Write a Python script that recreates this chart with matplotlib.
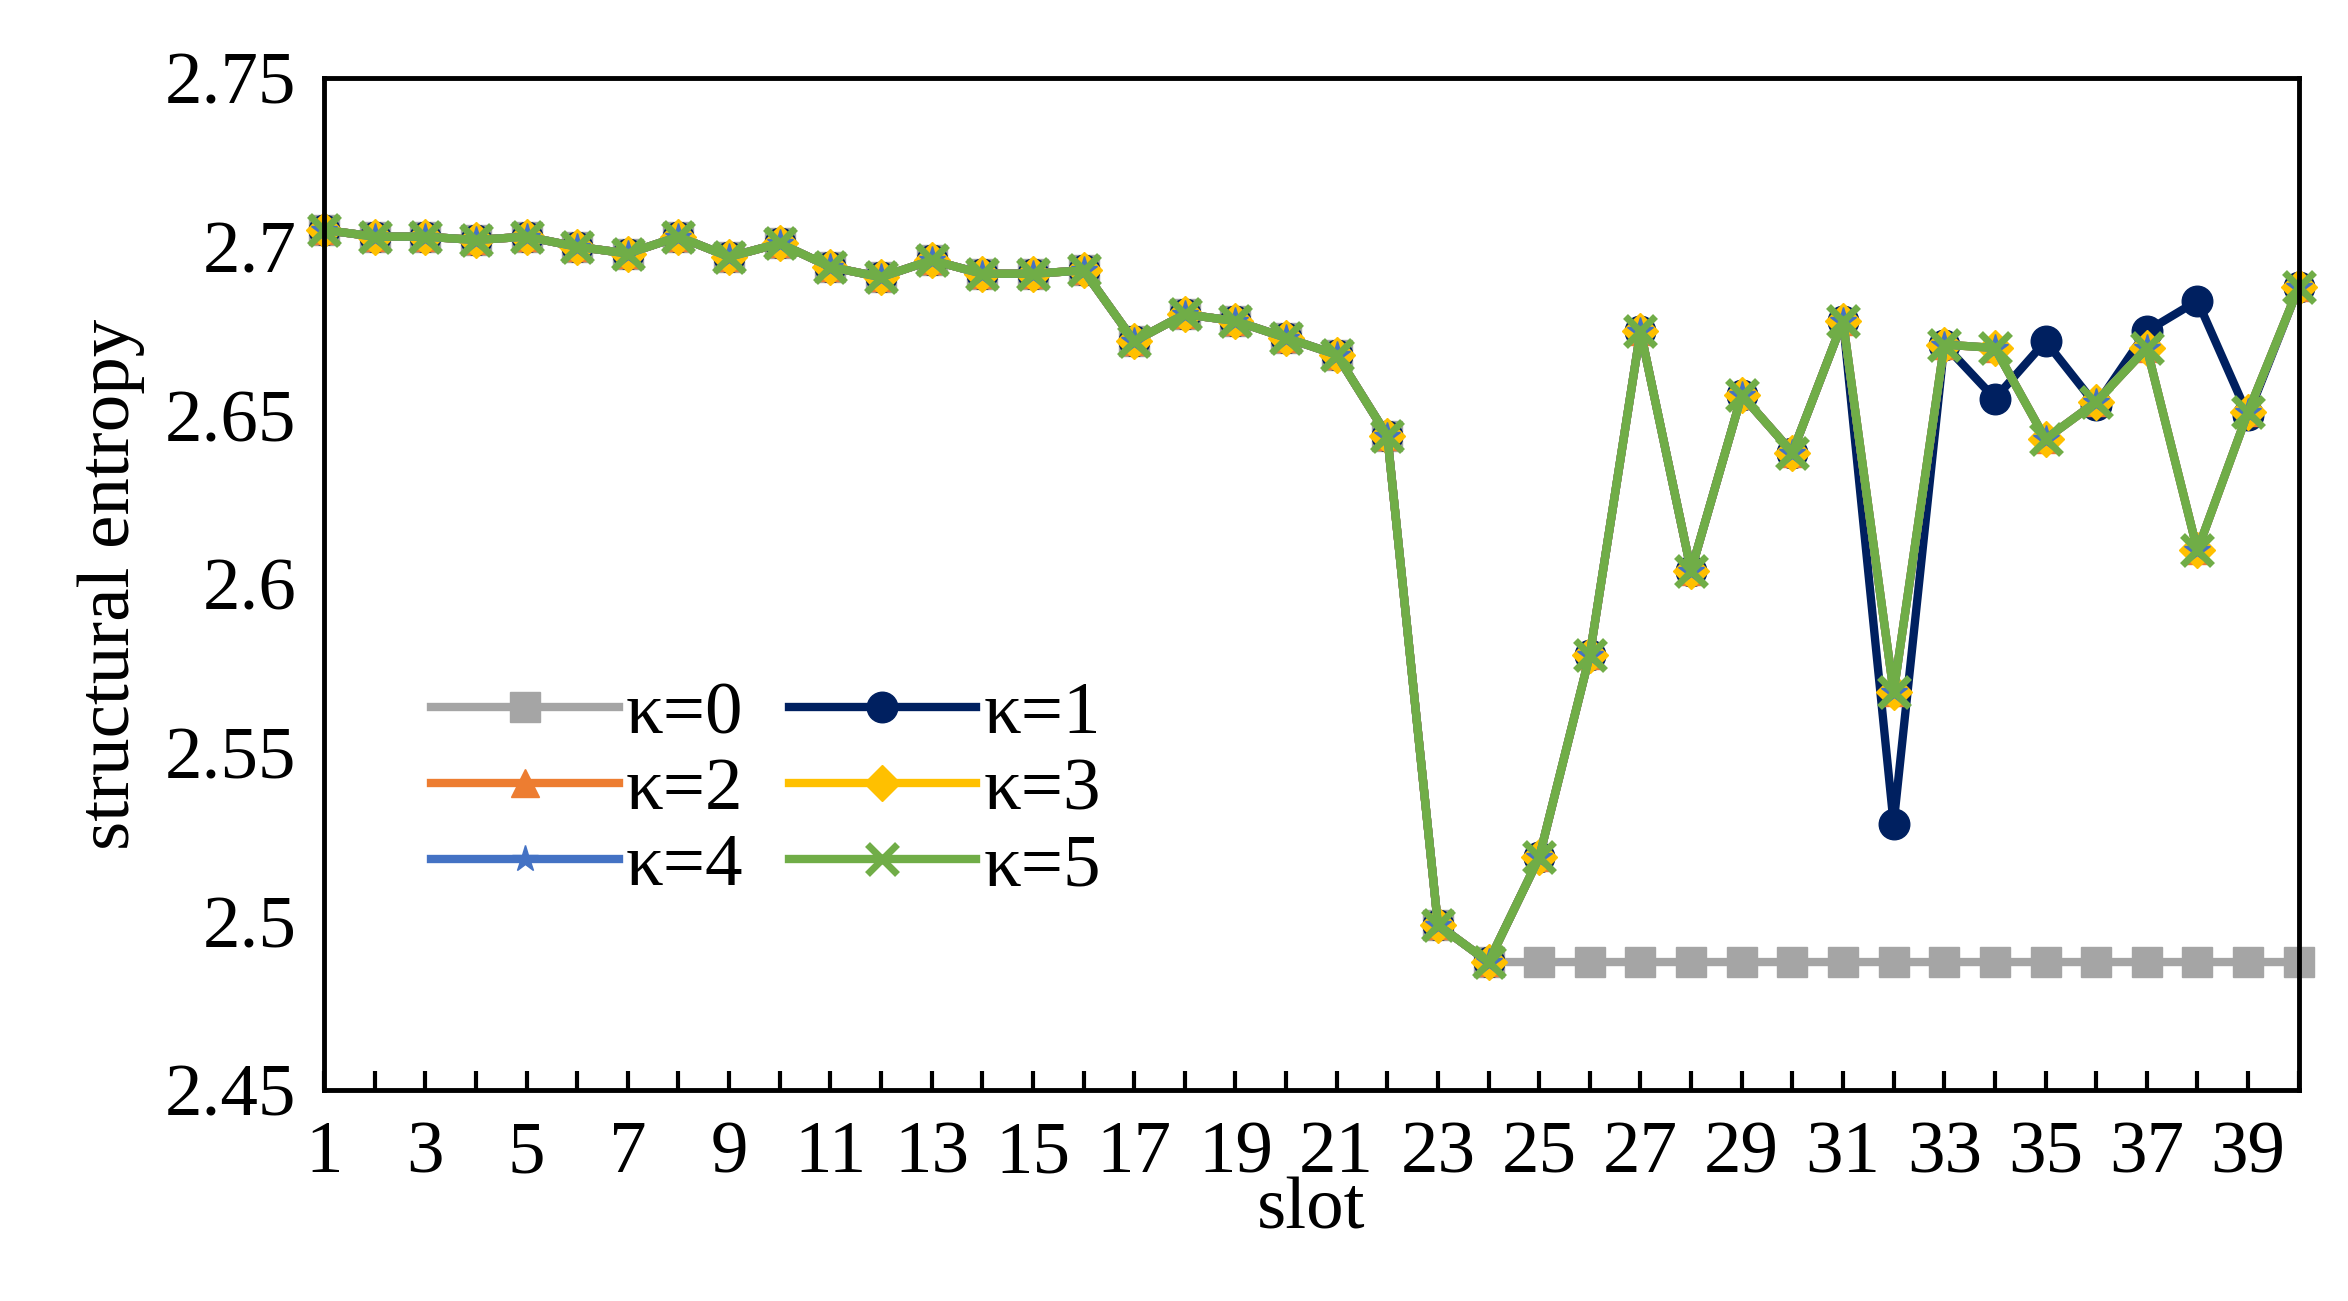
import matplotlib
matplotlib.use("Agg")
import matplotlib.pyplot as plt
import numpy as np

slots = list(range(1, 41))
common = [2.705, 2.703, 2.703, 2.702, 2.703, 2.700, 2.698, 2.703, 2.697, 2.701,
          2.694, 2.691, 2.696, 2.692, 2.692, 2.693, 2.672, 2.680, 2.678, 2.673,
          2.668, 2.644, 2.499, 2.488]
k5_tail = [2.519, 2.579, 2.675, 2.604, 2.656, 2.639, 2.678, 2.568, 2.671, 2.670,
           2.643, 2.654, 2.670, 2.610, 2.651, 2.688]
k1_tail = [2.519, 2.579, 2.675, 2.604, 2.656, 2.639, 2.678, 2.529, 2.671, 2.655,
           2.672, 2.653, 2.675, 2.684, 2.650, 2.688]
k0 = common + [2.488] * 16
k1 = common + k1_tail
k2 = common + k5_tail
k3 = common + k5_tail
k4 = common + k5_tail
k5 = common + k5_tail

plt.rcParams['font.family'] = ['Liberation Serif', 'DejaVu Serif']
fig = plt.figure(figsize=(23.48, 13.01), dpi=100)
ax = fig.add_axes([0.138, 0.162, 0.841, 0.778])

series = [
    (k0, 'κ=0', '#A5A5A5', 's', 22, {}),
    (k1, 'κ=1', '#002060', 'o', 22, {}),
    (k2, 'κ=2', '#ED7D31', '^', 20, {}),
    (k3, 'κ=3', '#FFC000', 'D', 18, {}),
    (k4, 'κ=4', '#4472C4', '*', 20, {}),
    (k5, 'κ=5', '#70AD47', 'x', 22, {'markeredgewidth': 5}),
]
handles = []
for vals, lab, col, mk, ms, kw in series:
    h, = ax.plot(slots, vals, color=col, marker=mk, markersize=ms, linewidth=6,
                 label=lab, clip_on=False, **kw)
    handles.append(h)

ax.set_xlim(1, 40)
ax.set_ylim(2.45, 2.75)
ax.set_xticks(slots)
ax.set_xticklabels([str(s) if s % 2 == 1 else '' for s in slots])
ax.set_yticks([2.45, 2.5, 2.55, 2.6, 2.65, 2.7, 2.75])
ax.set_yticklabels(['2.45', '2.5', '2.55', '2.6', '2.65', '2.7', '2.75'])
ax.tick_params(axis='x', direction='in', length=14, width=3, labelsize=54, pad=22)
ax.tick_params(axis='y', length=0, labelsize=54, pad=20)
for sp in ax.spines.values():
    sp.set_linewidth(3.5)
ax.set_xlabel('slot', fontsize=54, labelpad=-8)
ax.set_ylabel('structural entropy', fontsize=54, labelpad=14)
order = [0, 2, 4, 1, 3, 5]
ax.legend([handles[i] for i in order], [series[i][1] for i in order],
          ncol=2, loc='lower left', bbox_to_anchor=(0.02, 0.12), frameon=False,
          fontsize=54, handlelength=2.5, handletextpad=0.1, columnspacing=0.6,
          labelspacing=0.1)
fig.savefig('out.png', dpi=100)
